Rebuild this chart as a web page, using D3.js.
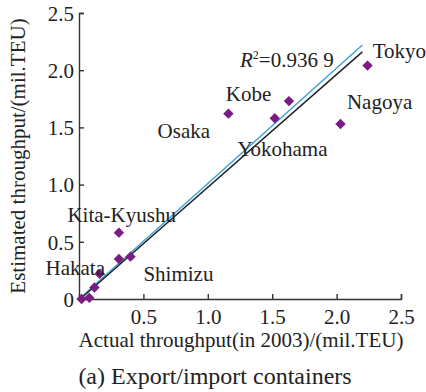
<!DOCTYPE html>
<html>
<head>
<meta charset="utf-8">
<script src="https://cdn.jsdelivr.net/npm/d3@7"></script>
<style>
  html, body { margin: 0; padding: 0; background: #fff; }
  svg { display: block; }
  text { font-family: "Liberation Serif", "Times New Roman", serif; fill: #222; }
</style>
</head>
<body>
<svg id="chart" width="426" height="392"></svg>
<script>
// Port throughput, export/import containers (mil. TEU)
const portNames = ["P1", "P2", "P3", "Hakata", "P5", "Shimizu", "Kita-Kyushu",
                   "Osaka", "Yokohama", "Kobe", "Nagoya", "Tokyo"];
const actual    = [0.02, 0.08, 0.12, 0.16, 0.31, 0.40, 0.31, 1.16, 1.52, 1.63, 2.03, 2.24];
const estimated = [0.00, 0.01, 0.10, 0.22, 0.35, 0.37, 0.58, 1.62, 1.58, 1.73, 1.53, 2.04];

// Fitted line and reference line (endpoints in data units)
const fitX  = [0.01, 2.20];
const fitY  = [0.00, 2.16];
const refX  = [0.00, 2.20];
const refY  = [0.00, 2.22];

const xTicks = [0.5, 1.0, 1.5, 2.0, 2.5];
const yTicks = [0, 0.5, 1.0, 1.5, 2.0, 2.5];

const xTitle  = "Actual throughput(in 2003)/(mil.TEU)";
const yTitle  = "Estimated throughput/(mil.TEU)";
const caption = "(a) Export/import containers";
const r2Value = "=0.936 9";

// Where each port name sits (text start, baseline) in data units
const labelNames = ["Tokyo", "Kobe", "Osaka", "Nagoya", "Yokohama", "Kita-Kyushu", "Hakata", "Shimizu"];
const labelX     = [2.28, 1.14, 0.61, 2.08, 1.23, -0.09, -0.26, 0.50];
const labelY     = [2.11, 1.73, 1.41, 1.66, 1.25, 0.67, 0.21, 0.16];

const svg = d3.select("#chart");
const x = d3.scaleLinear().domain([0, 2.5]).range([79, 401]);
const y = d3.scaleLinear().domain([0, 2.5]).range([299, 13]);

const axisColor = "#333";

// x axis: ticks point up into the plot
const gx = svg.append("g").attr("transform", `translate(0,${y(0)})`)
  .call(d3.axisTop(x).tickValues(xTicks).tickSize(5).tickFormat(d3.format(".1f")));
gx.select(".domain").attr("stroke", axisColor).attr("stroke-width", 1.4);
gx.selectAll(".tick line").attr("stroke", axisColor).attr("stroke-width", 1.4);
gx.selectAll(".tick text").attr("y", 25).attr("dy", 0)
  .style("font-size", "21px").style("font-family", "Liberation Serif").attr("fill", "#222");

// y axis: ticks point right into the plot
const gy = svg.append("g").attr("transform", `translate(${x(0)},0)`)
  .call(d3.axisRight(y).tickValues(yTicks).tickSize(5)
    .tickFormat(d => d === 0 ? "0" : d3.format(".1f")(d)));
gy.select(".domain").attr("stroke", axisColor).attr("stroke-width", 1.4);
gy.selectAll(".tick line").attr("stroke", axisColor).attr("stroke-width", 1.4);
gy.selectAll(".tick text").attr("x", -5).attr("dy", "0.35em").attr("text-anchor", "end")
  .style("font-size", "21px").style("font-family", "Liberation Serif").attr("fill", "#222");

// lines
const line = d3.line().x(d => x(d[0])).y(d => y(d[1]));
svg.append("path").datum(d3.zip(refX, refY)).attr("d", line)
  .attr("fill", "none").attr("stroke", "#3fa3db").attr("stroke-width", 1.5);
svg.append("path").datum(d3.zip(fitX, fitY)).attr("d", line)
  .attr("fill", "none").attr("stroke", "#1c1c1c").attr("stroke-width", 1.4);

// points
const diamond = d3.symbol().type(d3.symbolSquare).size(54);
svg.append("g").selectAll("path").data(d3.range(actual.length)).join("path")
  .attr("d", diamond)
  .attr("transform", i => `translate(${x(actual[i])},${y(estimated[i])}) rotate(45)`)
  .attr("fill", "#7a1c84");

// port names
svg.append("g").selectAll("text").data(labelNames).join("text")
  .attr("x", (d, i) => x(labelX[i])).attr("y", (d, i) => y(labelY[i]))
  .style("font-size", "21px").text(d => d);

// R^2 annotation
const r2 = svg.append("text").attr("x", 240).attr("y", 67).style("font-size", "21px");
r2.append("tspan").style("font-style", "italic").text("R");
r2.append("tspan").attr("dy", -8).style("font-size", "12px").text("2");
r2.append("tspan").attr("dy", 8).text(r2Value);

// axis titles
svg.append("text").attr("x", 241).attr("y", 347).attr("text-anchor", "middle")
  .style("font-size", "21px").text(xTitle);
svg.append("text").attr("transform", "translate(25,156) rotate(-90)").attr("text-anchor", "middle")
  .style("font-size", "21px").text(yTitle);
svg.append("text").attr("x", 215).attr("y", 384).attr("text-anchor", "middle")
  .style("font-size", "24px").text(caption);
</script>
</body>
</html>
